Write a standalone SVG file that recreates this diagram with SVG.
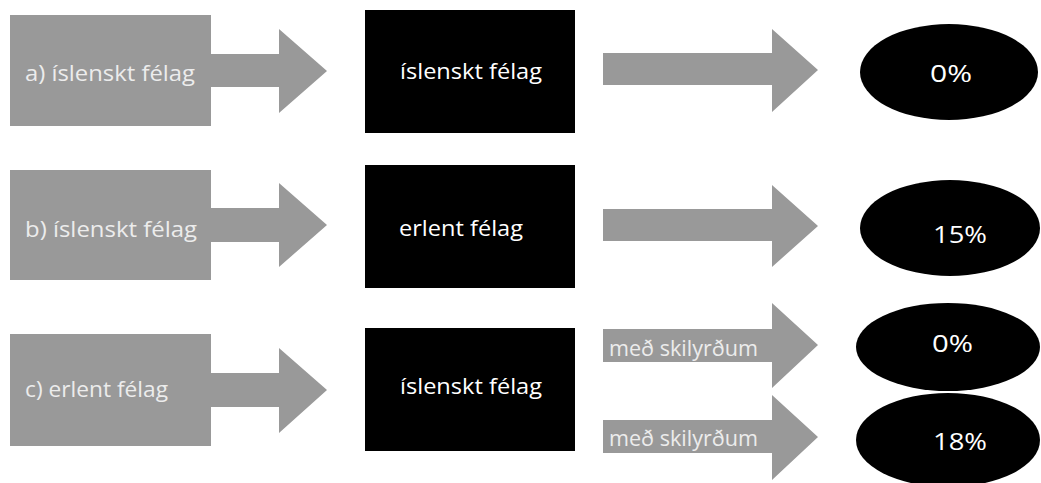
<svg xmlns="http://www.w3.org/2000/svg" width="1041" height="483" viewBox="0 0 1041 483">
  <style>
    .src { fill: #999999; }
    .box { fill: #000000; }
    .arrow { fill: #999999; }
    .oval { fill: #000000; }
    .lbl { font-family: "Open Sans", "Liberation Sans", sans-serif; font-size: 22px; font-weight: 500; fill: #ececec; }
    .wlbl { font-family: "Open Sans", "Liberation Sans", sans-serif; font-size: 22px; font-weight: 500; fill: #ffffff; }
    .pct { font-family: "Open Sans", "Liberation Sans", sans-serif; font-size: 23px; font-weight: 500; fill: #ffffff; }
  </style>

  <!-- Row a -->
  <g id="src-a">
    <path class="src" d="M10 15 H211 V54 H279 V29 L327 71 L279 113 V87 H211 V126 H10 Z"/>
    <text class="lbl" x="25" y="81" textLength="170" lengthAdjust="spacingAndGlyphs">a) íslenskt félag</text>
  </g>
  <g id="box-a">
    <rect class="box" x="365" y="10" width="210" height="123"/>
    <text class="wlbl" x="400" y="79" textLength="142" lengthAdjust="spacingAndGlyphs">íslenskt félag</text>
  </g>
  <g id="oval-a">
    <ellipse class="oval" cx="949" cy="72" rx="89" ry="48"/>
    <text class="pct" x="930" y="82" textLength="42" lengthAdjust="spacingAndGlyphs">0%</text>
  </g>

  <!-- Row b -->
  <g id="src-b">
    <path class="src" d="M10 170 H211 V208 H279 V183 L327 225 L279 267 V242 H211 V280 H10 Z"/>
    <text class="lbl" x="25" y="237" textLength="172" lengthAdjust="spacingAndGlyphs">b) íslenskt félag</text>
  </g>
  <g id="box-b">
    <rect class="box" x="365" y="165" width="210" height="123"/>
    <text class="wlbl" x="399" y="236" textLength="124" lengthAdjust="spacingAndGlyphs">erlent félag</text>
  </g>
  <g id="oval-b">
    <ellipse class="oval" cx="950" cy="228" rx="90" ry="48"/>
    <text class="pct" x="933" y="243" textLength="54" lengthAdjust="spacingAndGlyphs">15%</text>
  </g>

  <!-- Row c -->
  <g id="src-c">
    <path class="src" d="M10 334 H211 V373 H279 V348 L327 390 L279 433 V407 H211 V446 H10 Z"/>
    <text class="lbl" x="25" y="397" textLength="143" lengthAdjust="spacingAndGlyphs">c) erlent félag</text>
  </g>
  <g id="box-c">
    <rect class="box" x="365" y="328" width="210" height="123"/>
    <text class="wlbl" x="400" y="394" textLength="142" lengthAdjust="spacingAndGlyphs">íslenskt félag</text>
  </g>
  <g id="oval-c1">
    <ellipse class="oval" cx="948" cy="347" rx="92" ry="44"/>
    <text class="pct" x="932" y="352" textLength="41" lengthAdjust="spacingAndGlyphs">0%</text>
  </g>
  <g id="oval-c2">
    <ellipse class="oval" cx="948" cy="440" rx="92" ry="47"/>
    <text class="pct" x="933" y="450" textLength="54" lengthAdjust="spacingAndGlyphs">18%</text>
  </g>

  <!-- Connectors: right-hand arrows toward the rates -->
  <g id="connectors">
    <path class="arrow" d="M603 53 H772 V29 L818 70 L772 112 V85 H603 Z"/>
    <path class="arrow" d="M603 209 H772 V185 L818 226 L772 267 V241 H603 Z"/>
    <path class="arrow" d="M603 329 H772 V303 L818 345 L772 388 V362 H603 Z"/>
    <text class="lbl" x="609" y="356" textLength="149" lengthAdjust="spacingAndGlyphs">með skilyrðum</text>
    <path class="arrow" d="M603 420 H772 V395 L818 437 L772 480 V453 H603 Z"/>
    <text class="lbl" x="609" y="446" textLength="149" lengthAdjust="spacingAndGlyphs">með skilyrðum</text>
  </g>
</svg>
